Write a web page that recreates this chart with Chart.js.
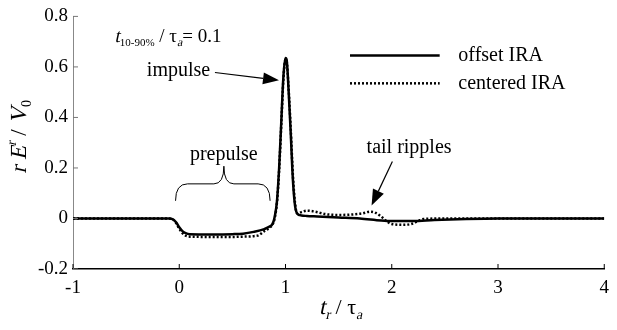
<!DOCTYPE html>
<html>
<head>
<meta charset="utf-8">
<script src="https://cdn.jsdelivr.net/npm/chart.js@4/dist/chart.umd.min.js"></script>
</head>
<body style="margin:0">
<canvas id="chartContainer" width="617" height="330"></canvas>
<script>
// offset IRA (solid)
const tOffset = [-1, -0.1, -0.06, -0.03, 0, 0.03, 0.06, 0.1, 0.3, 0.5, 0.6, 0.7, 0.8, 0.85, 0.88, 0.9, 0.92, 0.94, 0.96, 0.98, 1.0, 1.01, 1.03, 1.05, 1.07, 1.09, 1.11, 1.15, 1.2, 1.3, 1.5, 1.7, 1.9, 2.0, 2.2, 2.4, 2.7, 3.0, 4.0];
const vOffset = [0, 0, -0.003, -0.015, -0.035, -0.05, -0.058, -0.062, -0.063, -0.062, -0.06, -0.053, -0.042, -0.032, -0.02, 0.01, 0.07, 0.2, 0.38, 0.56, 0.635, 0.63, 0.5, 0.33, 0.15, 0.05, 0.02, 0.012, 0.01, 0.008, 0.004, 0, -0.008, -0.01, -0.01, -0.006, -0.002, 0, 0];

// centered IRA (dotted)
const tCentered = [-1, -0.1, -0.06, -0.03, 0, 0.03, 0.06, 0.1, 0.3, 0.5, 0.6, 0.7, 0.75, 0.8, 0.85, 0.88, 0.9, 0.92, 0.94, 0.96, 0.98, 1.0, 1.01, 1.03, 1.05, 1.07, 1.09, 1.11, 1.15, 1.2, 1.28, 1.38, 1.5, 1.6, 1.72, 1.8, 1.85, 1.9, 1.95, 2.0, 2.1, 2.18, 2.25, 2.3, 2.5, 4.0];
const vCentered = [0, 0, -0.004, -0.018, -0.04, -0.058, -0.068, -0.072, -0.073, -0.073, -0.072, -0.07, -0.066, -0.05, -0.037, -0.022, 0.005, 0.065, 0.19, 0.37, 0.55, 0.63, 0.625, 0.51, 0.35, 0.17, 0.06, 0.02, 0.025, 0.031, 0.027, 0.017, 0.014, 0.015, 0.02, 0.027, 0.022, 0.008, -0.01, -0.022, -0.025, -0.022, -0.01, -0.002, 0, 0];

const seriesNames = ['offset IRA', 'centered IRA'];
const xTicks = [-1, 0, 1, 2, 3, 4];
const yTicks = [-0.2, 0, 0.2, 0.4, 0.6, 0.8];

const fam = '"Liberation Serif"';

function pts(ts, vs) {
    return ts.map((t, i) => ({ x: t, y: vs[i] }));
}

function arrow(ctx, x1, y1, x2, y2, head, half) {
    const a = Math.atan2(y2 - y1, x2 - x1);
    const bx = x2 - head * Math.cos(a), by = y2 - head * Math.sin(a);
    ctx.beginPath();
    ctx.moveTo(x1, y1);
    ctx.lineTo(bx, by);
    ctx.stroke();
    ctx.beginPath();
    ctx.moveTo(x2, y2);
    ctx.lineTo(bx + half * Math.sin(a), by - half * Math.cos(a));
    ctx.lineTo(bx - half * Math.sin(a), by + half * Math.cos(a));
    ctx.closePath();
    ctx.fill();
}

// draw a row of text pieces [text, size, dy, slanted]
// slanted pieces get a skew instead of an italic face
function richText(ctx, parts, x, y) {
    let cx = x;
    parts.forEach(p => {
        ctx.font = p[1] + 'px ' + fam;
        ctx.save();
        ctx.translate(cx, y + (p[2] || 0));
        if (p[3]) ctx.transform(1, 0, -0.22, 1, 0, 0);
        ctx.fillText(p[0], 0, 0);
        ctx.restore();
        cx += ctx.measureText(p[0]).width;
    });
    return cx - x;
}
function richWidth(ctx, parts) {
    let w = 0;
    parts.forEach(p => { ctx.font = p[1] + 'px ' + fam; w += ctx.measureText(p[0]).width; });
    return w;
}

const decorations = {
    id: 'decorations',
    afterDraw(chart) {
        const ctx = chart.ctx;
        const xs = chart.scales.x, ys = chart.scales.y;
        const X = v => xs.getPixelForValue(v);
        const Y = v => ys.getPixelForValue(v);
        const area = chart.chartArea;
        ctx.save();
        ctx.fillStyle = '#000';
        ctx.strokeStyle = '#000';

        // inward ticks
        ctx.lineWidth = 1;
        xTicks.forEach(t => {
            ctx.beginPath();
            ctx.moveTo(X(t), area.bottom);
            ctx.lineTo(X(t), area.bottom - 5);
            ctx.stroke();
        });
        ctx.strokeStyle = '#777';
        yTicks.forEach(v => {
            ctx.beginPath();
            ctx.moveTo(area.left, Y(v));
            ctx.lineTo(area.left + 5, Y(v));
            ctx.stroke();
        });
        ctx.strokeStyle = '#000';

        // x title: t_r / τ_a
        ctx.textBaseline = 'alphabetic';
        ctx.textAlign = 'left';
        const xt = [['t', 23, 0, true], ['r', 14, 5, true], [' / ', 22], ['τ', 22], ['a', 14, 5, true]];
        const xw = richWidth(ctx, xt);
        richText(ctx, xt, (area.left + area.right) / 2 - xw / 2 + 2, 314);

        // y title: r E^r / V_0 (rotated)
        ctx.save();
        ctx.translate(26, (area.top + area.bottom) / 2 - 6);
        ctx.rotate(-Math.PI / 2);
        const yt = [['r ', 23, 0, true], ['E', 23, 0, true], ['r', 14, -10, true], [' / ', 23], ['V', 23, 0, true], ['0', 14, 5]];
        const yw = richWidth(ctx, yt);
        richText(ctx, yt, -yw / 2, 0);
        ctx.restore();

        // parameter label
        richText(ctx, [['t', 19, 0, true], ['10-90%', 11, 4], [' / ', 19], ['τ', 19], ['a', 12, 4, true], ['= 0.1', 19]], X(-0.61), Y(0.7));

        // legend
        ctx.lineWidth = 2.5;
        ctx.beginPath();
        ctx.moveTo(X(1.607), Y(0.645));
        ctx.lineTo(X(2.451), Y(0.645));
        ctx.stroke();
        ctx.setLineDash([2, 2]);
        ctx.beginPath();
        ctx.moveTo(X(1.607), Y(0.535));
        ctx.lineTo(X(2.451), Y(0.535));
        ctx.stroke();
        ctx.setLineDash([]);
        ctx.font = '20px ' + fam;
        ctx.textBaseline = 'middle';
        ctx.fillText(seriesNames[0], X(2.627), Y(0.645));
        ctx.fillText(seriesNames[1], X(2.627), Y(0.535));

        // annotations
        ctx.textAlign = 'center';
        ctx.fillText('impulse', X(-0.007), Y(0.586));
        ctx.fillText('prepulse', X(0.419), Y(0.254));
        ctx.fillText('tail ripples', X(2.163), Y(0.281));

        ctx.lineWidth = 1.2;
        arrow(ctx, X(0.336), Y(0.578), X(0.939), Y(0.547), 16, 6);
        arrow(ctx, X(2.006), Y(0.226), X(1.81), Y(0.051), 16, 6);

        // brace over prepulse
        const bl = X(-0.035), br = X(0.855), bm = X(0.42);
        const bEnd = Y(0.07), bMid = Y(0.137), bTip = Y(0.207);
        ctx.lineWidth = 1;
        ctx.beginPath();
        ctx.moveTo(bl, bEnd);
        ctx.quadraticCurveTo(bl, bMid, bl + 12, bMid);
        ctx.lineTo(bm - 10, bMid);
        ctx.quadraticCurveTo(bm, bMid, bm, bTip);
        ctx.quadraticCurveTo(bm, bMid, bm + 10, bMid);
        ctx.lineTo(br - 12, bMid);
        ctx.quadraticCurveTo(br, bMid, br, bEnd);
        ctx.stroke();

        ctx.restore();
    }
};

const data = {
    datasets: [{
        label: seriesNames[0],
        data: pts(tOffset, vOffset),
        borderColor: '#000',
        borderWidth: 2.5,
        pointRadius: 0,
        cubicInterpolationMode: 'monotone'
    }, {
        label: seriesNames[1],
        data: pts(tCentered, vCentered),
        borderColor: '#000',
        borderWidth: 2.5,
        borderDash: [2, 2],
        pointRadius: 0,
        cubicInterpolationMode: 'monotone'
    }]
};

const config = {
    type: 'line',
    data: data,
    options: {
        responsive: false,
        animation: false,
        layout: { padding: { top: 13, right: 5, left: 0, bottom: 0 } },
        plugins: { legend: { display: false }, tooltip: { enabled: false } },
        scales: {
            x: {
                type: 'linear',
                min: -1, max: 4,
                afterBuildTicks: s => { s.ticks = xTicks.map(v => ({ value: v })); },
                afterFit: s => { s.height = 61; },
                grid: { display: false, drawTicks: false },
                border: { color: '#000', width: 1.5 },
                ticks: { color: '#000', padding: 8, font: { family: fam, size: 19 } }
            },
            y: {
                min: -0.2, max: 0.8,
                afterBuildTicks: s => { s.ticks = yTicks.map(v => ({ value: v })); },
                afterFit: s => { s.width = 73; },
                grid: { display: false, drawTicks: false },
                border: { color: '#888', width: 1 },
                ticks: { color: '#000', padding: 5, font: { family: fam, size: 19 },
                    callback: v => String(Math.round(v * 10) / 10) }
            }
        }
    },
    plugins: [decorations]
};

var myChart = new Chart(document.getElementById('chartContainer'), config);
</script>
</body>
</html>
